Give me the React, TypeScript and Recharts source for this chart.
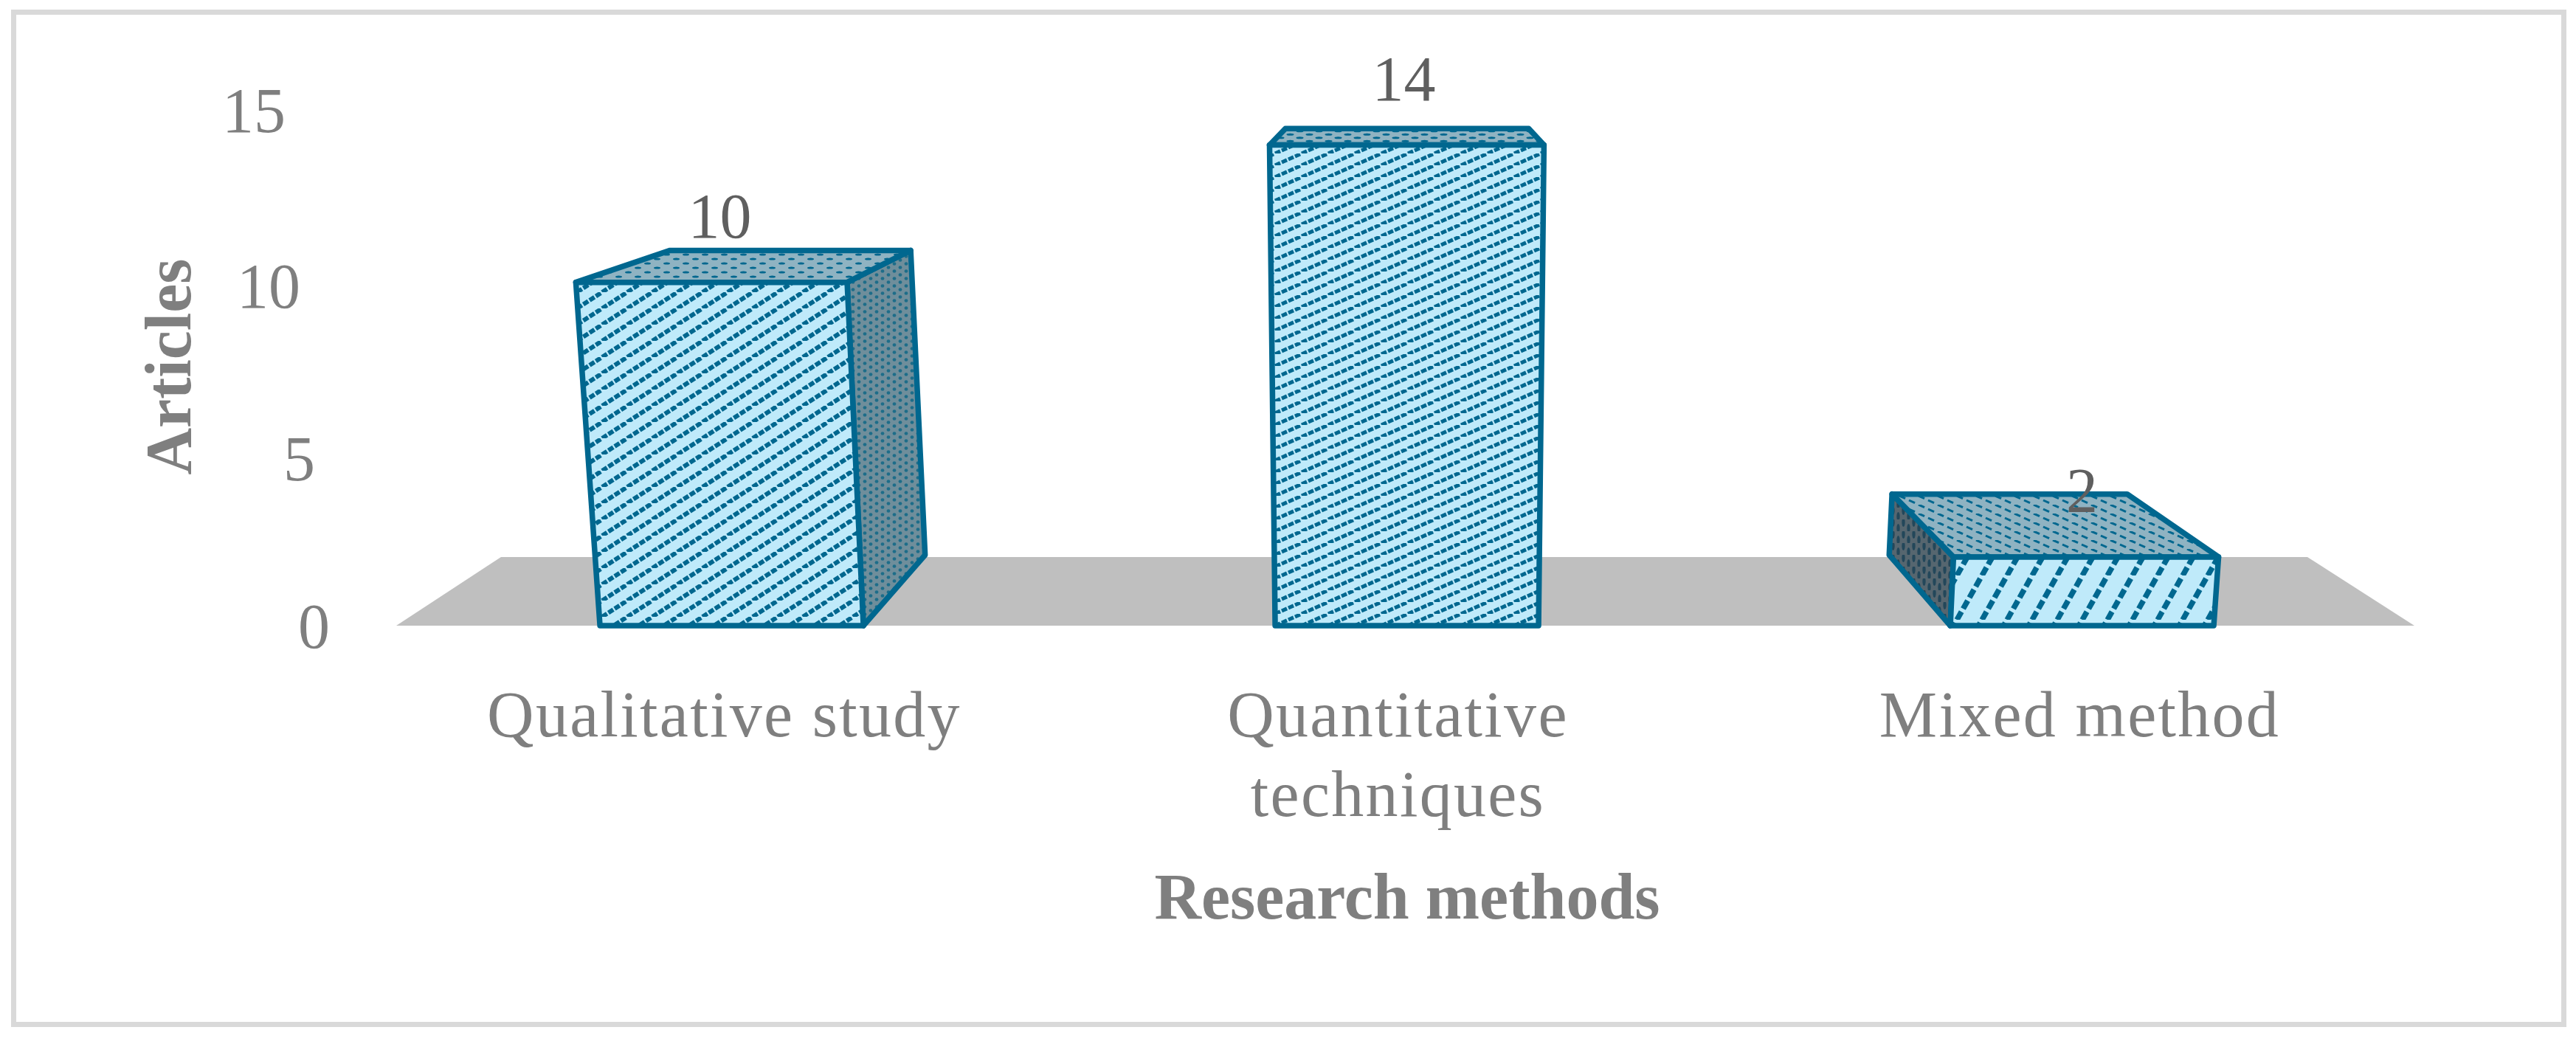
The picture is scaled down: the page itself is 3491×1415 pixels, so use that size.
import React from 'react';
import { BarChart, Bar, XAxis, YAxis, ReferenceArea, LabelList } from 'recharts';

const categories = ['Qualitative study', 'Quantitative techniques', 'Mixed method'];
const articles = [10, 14, 2];
const yTicks = [0, 5, 10, 15];
const floorHeightValue = 2;

const table = categories.map((name, i) => ({ name, articles: articles[i] }));

const W = 3491;
const H = 1415;
const PLOT = { left: 534, right: 3279, top: 150, bottom: 848 };
const SERIF = '"Liberation Serif", serif';
const STROKE = '#00678f';

// perspective camera of the 3-D column chart
const VP = { x: 1910, y: 0 };
const DEPTH = 0.113;
const SPREAD = 6.4e-5;
const labelNudge = [-16, -4, 0];
const yTickNudge: Record<number, number> = { 0: 1, 5: 7, 10: 5, 15: 0 };

type P = { x: number; y: number };
const lift = (x: number, top: number, base: number): P => ({
  x: VP.x + (x - VP.x) * (1 + SPREAD * (base - top)),
  y: top,
});
const back = (p: P): P => ({ x: p.x + (VP.x - p.x) * DEPTH, y: p.y + (VP.y - p.y) * DEPTH });
const pts = (a: P[]) => a.map((p) => `${p.x},${p.y}`).join(' ');

function Box(props: any) {
  const { x, y, width, height, index } = props;
  const base = y + height;
  const fl = lift(x, base, base);
  const fr = lift(x + width, base, base);
  const tl = lift(x, y, base);
  const tr = lift(x + width, y, base);
  const btl = back(tl);
  const btr = back(tr);
  const bfl = back(fl);
  const bfr = back(fr);
  const common = { stroke: STROKE, strokeWidth: 7.5, strokeLinejoin: 'round' as const };
  return (
    <g>
      {fr.x < VP.x - 200 && <polygon points={pts([fr, tr, btr, bfr])} fill={`url(#side${index})`} {...common} />}
      {fl.x > VP.x + 200 && <polygon points={pts([fl, tl, btl, bfl])} fill={`url(#side${index})`} {...common} />}
      <polygon points={pts([tl, tr, btr, btl])} fill={`url(#top${index})`} {...common} />
      <polygon points={pts([fl, fr, tr, tl])} fill={`url(#front${index})`} {...common} />
    </g>
  );
}

function Floor(props: any) {
  const { x, y, width, height } = props;
  const bottom = y + height;
  const p = [
    { x: x + 3, y: bottom },
    { x: x + 145, y },
    { x: x + width - 152, y },
    { x: x + width - 7, y: bottom },
  ];
  return <polygon points={pts(p)} fill="#bfbfbf" />;
}

function YTick(props: any) {
  const { x, y, payload } = props;
  const shift = (payload.value / 5) * 20;
  return (
    <text x={x - 81 - shift} y={y + 29 + yTickNudge[payload.value]} textAnchor="end" fontFamily={SERIF} fontSize={86} fill="#7f7f7f">
      {payload.value}
    </text>
  );
}

const xLines: Record<string, string[]> = {
  'Qualitative study': ['Qualitative study'],
  'Quantitative techniques': ['Quantitative', 'techniques'],
  'Mixed method': ['Mixed method'],
};
const xNudge: Record<string, number> = { 'Qualitative study': -10, 'Quantitative techniques': -12, 'Mixed method': -3 };

function XTick(props: any) {
  const { x, payload } = props;
  return (
    <text textAnchor="middle" fontFamily={SERIF} fontSize={88} letterSpacing={2.3} fill="#7f7f7f">
      {xLines[payload.value].map((line, i) => (
        <tspan key={line} x={x + xNudge[payload.value]} y={998 + i * 108}>
          {line}
        </tspan>
      ))}
    </text>
  );
}

function ValueLabel(props: any) {
  const { x, y, width, value, index } = props;
  return (
    <text x={x + width / 2 + labelNudge[index]} y={y - 61} textAnchor="middle" fontFamily={SERIF} fontSize={86} fill="#5f5f5f">
      {value}
    </text>
  );
}

function Hatch({ id, w, h, sw, n, on, bg, down }: { id: string; w: number; h: number; sw: number; n: number; on: number; bg: string; down?: boolean }) {
  const period = Math.hypot(w, h) / n;
  const dash = `${period * on} ${period * (1 - on)}`;
  const offs = [-1, 0, 1];
  return (
    <pattern id={id} patternUnits="userSpaceOnUse" width={w} height={h}>
      <rect width={w} height={h} fill={bg} />
      {offs.map((k) => (
        <line
          key={k}
          x1={k * w}
          y1={down ? 0 : h}
          x2={(k + 1) * w}
          y2={down ? h : 0}
          stroke={STROKE}
          strokeWidth={sw}
          strokeDasharray={dash}
        />
      ))}
    </pattern>
  );
}

function Mesh({ id, w, h, bg, rx, ry, color = STROKE }: { id: string; w: number; h: number; bg: string; rx: number; ry: number; color?: string }) {
  return (
    <pattern id={id} patternUnits="userSpaceOnUse" width={w} height={h}>
      <rect width={w} height={h} fill={bg} />
      <ellipse cx={w / 4} cy={h / 4} rx={rx} ry={ry} fill={color} />
      <ellipse cx={(3 * w) / 4} cy={(3 * h) / 4} rx={rx} ry={ry} fill={color} />
    </pattern>
  );
}

export default function App() {
  return (
    <div style={{ position: 'absolute', left: 0, top: 0, width: W, height: H, background: '#fff', overflow: 'hidden' }}>
      <div
        style={{
          position: 'absolute',
          left: 15,
          top: 13,
          right: 13,
          bottom: 23,
          border: '7px solid #d9d9d9',
        }}
      />
      <svg width={0} height={0} style={{ position: 'absolute' }}>
        <defs>
          <Hatch id="front0" w={34} h={22} sw={6} n={4} on={0.78} bg="#bfeafa" />
          <Hatch id="front1" w={36} h={16} sw={5} n={4} on={0.78} bg="#bfeafa" />
          <Hatch id="front2" w={34} h={60} sw={7.5} n={4} on={0.72} bg="#bfeafa" />
          <Mesh id="top0" w={26} h={12} bg="#8fb3c2" rx={4.5} ry={1.6} />
          <Mesh id="top1" w={26} h={9} bg="#8fb3c2" rx={5} ry={1.5} />
          <Hatch id="top2" w={26} h={12} sw={3} n={2} on={0.62} bg="#8fb3c2" down />
          <Mesh id="side0" w={16} h={10} bg="#6f8e9b" rx={2.4} ry={2.2} color="#1d6d89" />
          <Mesh id="side1" w={16} h={10} bg="#6f8e9b" rx={2.4} ry={2.2} color="#1d6d89" />
          <Mesh id="side2" w={14} h={16} bg="#56666f" rx={2.2} ry={6} color="#23475a" />
        </defs>
      </svg>
      <BarChart
        width={W}
        height={H}
        data={table}
        barCategoryGap="30.5%"
        margin={{ left: 0, right: W - PLOT.right, top: PLOT.top, bottom: 0 }}
        style={{ position: 'absolute', left: 0, top: 0 }}
      >
        <XAxis
          dataKey="name"
          axisLine={false}
          tickLine={false}
          tick={<XTick />}
          interval={0}
          height={H - PLOT.bottom}
          label={{
            value: 'Research methods',
            content: () => (
              <text x={1907} y={1245} textAnchor="middle" fontFamily={SERIF} fontSize={88} fontWeight="bold" fill="#7f7f7f">
                Research methods
              </text>
            ),
          }}
        />
        <YAxis
          domain={[0, 15]}
          ticks={yTicks}
          axisLine={false}
          tickLine={false}
          tick={<YTick />}
          width={PLOT.left}
          tickMargin={0}
          label={{
            value: 'Articles',
            content: () => (
              <text
                x={0}
                y={0}
                transform="translate(258 497) rotate(-90)"
                textAnchor="middle"
                fontFamily={SERIF}
                fontSize={88}
                fontWeight="bold"
                fill="#7f7f7f"
              >
                Articles
              </text>
            ),
          }}
        />
        <ReferenceArea y1={0} y2={floorHeightValue} shape={<Floor />} fill="#bfbfbf" stroke="none" ifOverflow="visible" />
        <Bar dataKey="articles" isAnimationActive={false} shape={<Box />}>
          <LabelList dataKey="articles" content={<ValueLabel />} />
        </Bar>
      </BarChart>
    </div>
  );
}
